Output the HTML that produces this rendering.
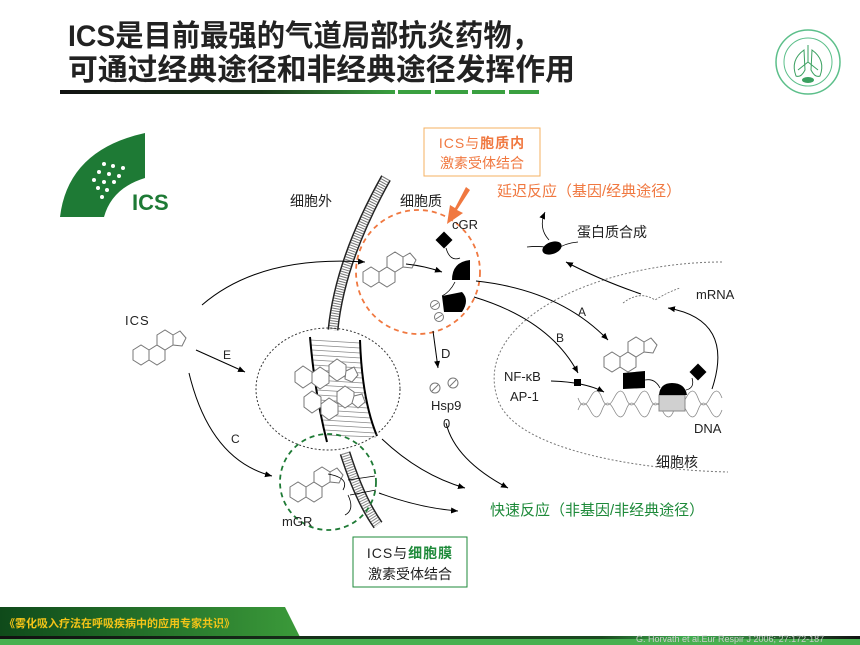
<!DOCTYPE html>
<html><head><meta charset="utf-8"><style>
html,body{margin:0;padding:0;background:#fff}
svg{display:block}
text{font-family:"Liberation Sans","Noto Sans CJK SC",sans-serif}
</style></head><body>
<svg width="860" height="645" viewBox="0 0 860 645" xmlns="http://www.w3.org/2000/svg">
<defs>
<linearGradient id="ul" x1="0" x2="1"><stop offset="0" stop-color="#111"/><stop offset="0.6" stop-color="#1a3a1a"/><stop offset="1" stop-color="#3aa040"/></linearGradient>
<linearGradient id="ft" x1="0" x2="1"><stop offset="0" stop-color="#0f4a1a"/><stop offset="1" stop-color="#3b9a3a"/></linearGradient>
<linearGradient id="fb" x1="0" x2="1"><stop offset="0" stop-color="#111"/><stop offset="0.7" stop-color="#1a4a20"/><stop offset="0.8" stop-color="#40b050"/><stop offset="1" stop-color="#111"/></linearGradient>
<marker id="ar" markerWidth="8" markerHeight="8" refX="7" refY="4" orient="auto" markerUnits="userSpaceOnUse"><path d="M0,1 L7,4 L0,7 z" fill="#000"/></marker>
<g id="st" fill="#fff" stroke="#777" stroke-width="1">
<polygon points="0,0 8,-5 16,0 16,10 8,15 0,10"/>
<polygon points="16,0 24,-5 32,0 32,10 24,15 16,10"/>
<polygon points="24,-15 32,-20 40,-15 40,-5 32,0 24,-5"/>
<polygon points="40,-15 47,-19 53,-12 49,-4 40,-5"/>
</g>
</defs>

<!-- title -->
<text x="68" y="46" font-size="30" font-weight="bold" fill="#222" textLength="472" lengthAdjust="spacingAndGlyphs">ICS是目前最强的气道局部抗炎药物，</text>
<text x="68" y="80" font-size="30" font-weight="bold" fill="#222" textLength="507" lengthAdjust="spacingAndGlyphs">可通过经典途径和非经典途径发挥作用</text>
<rect x="60" y="90" width="335" height="4" fill="url(#ul)"/>
<g fill="#3aa040"><rect x="398" y="90" width="33" height="4"/><rect x="435" y="90" width="33" height="4"/><rect x="472" y="90" width="33" height="4"/><rect x="509" y="90" width="30" height="4"/></g>

<!-- logo -->
<circle cx="808" cy="62" r="32" fill="#fff" stroke="#5cbf8a" stroke-width="1.5"/>
<circle cx="808" cy="62" r="24" fill="none" stroke="#5cbf8a" stroke-width="1"/>
<path d="M808,45 V62 M808,62 L798,70 M808,62 L818,70" stroke="#3aa060" fill="none"/>
<path d="M804,50 Q790,60 796,76 Q801,78 805,70 Z M812,50 Q826,60 820,76 Q815,78 811,70 Z" fill="none" stroke="#3aa060"/>
<ellipse cx="808" cy="80" rx="6" ry="3" fill="#3aa060"/>

<!-- ICS emblem -->
<path d="M60,217 Q68,150 145,133 L145,178 Q112,188 104,217 Z" fill="#1e7a35"/>
<g fill="#fff"><circle cx="104" cy="164" r="2"/><circle cx="113" cy="166" r="2"/><circle cx="123" cy="168" r="2"/><circle cx="99" cy="172" r="2"/><circle cx="109" cy="174" r="2"/><circle cx="119" cy="176" r="2"/><circle cx="94" cy="180" r="2"/><circle cx="104" cy="182" r="2"/><circle cx="114" cy="182" r="2"/><circle cx="98" cy="188" r="2"/><circle cx="107" cy="190" r="2"/><circle cx="102" cy="197" r="2"/></g>
<text x="132" y="210" font-size="22" font-weight="bold" fill="#1e7a35">ICS</text>

<!-- nucleus -->
<path d="M722,262 C600,262 470,320 498,400 C515,450 640,470 728,472" fill="none" stroke="#777" stroke-width="1" stroke-dasharray="2 2"/>

<!-- membrane -->
<g fill="none">
<path d="M386,178 Q340,260 333,330" stroke="#222" stroke-width="11"/>
<path d="M386,178 Q340,260 333,330" stroke="#fff" stroke-width="8"/>
<path d="M386,178 Q340,260 333,330" stroke="#777" stroke-width="8" stroke-dasharray="1 1.5"/>
<path d="M345,453 Q360,500 378,525" stroke="#222" stroke-width="11"/>
<path d="M345,453 Q360,500 378,525" stroke="#fff" stroke-width="8"/>
<path d="M345,453 Q360,500 378,525" stroke="#888" stroke-width="8" stroke-dasharray="1 1.5"/>
</g>
<path d="M310,337 Q315,395 327,442 L377,436 Q362,400 360,340 Z" fill="#fff"/>
<g stroke="#888" stroke-width="0.7">
<line x1="310" y1="340" x2="360" y2="343"/><line x1="311" y1="345" x2="360" y2="348"/><line x1="312" y1="350" x2="360" y2="353"/><line x1="312" y1="355" x2="361" y2="358"/><line x1="313" y1="360" x2="361" y2="363"/><line x1="313" y1="365" x2="361" y2="368"/><line x1="314" y1="370" x2="362" y2="373"/><line x1="315" y1="375" x2="362" y2="378"/><line x1="315" y1="380" x2="363" y2="383"/><line x1="316" y1="385" x2="364" y2="388"/><line x1="317" y1="390" x2="365" y2="393"/><line x1="318" y1="395" x2="366" y2="398"/><line x1="319" y1="400" x2="367" y2="403"/><line x1="320" y1="405" x2="368" y2="408"/><line x1="321" y1="410" x2="370" y2="413"/><line x1="322" y1="415" x2="371" y2="418"/><line x1="323" y1="420" x2="372" y2="423"/><line x1="324" y1="425" x2="374" y2="428"/><line x1="325" y1="430" x2="375" y2="433"/><line x1="326" y1="435" x2="376" y2="437"/>
</g>
<path d="M310,337 Q315,395 327,442" fill="none" stroke="#000" stroke-width="2"/>
<path d="M360,340 Q362,400 377,436" fill="none" stroke="#000" stroke-width="2"/>
<g fill="#fff" stroke="#777">
<polygon points="295,372 303,366 312,372 312,382 303,388 295,382"/><polygon points="312,373 320,367 329,373 329,383 320,389 312,383"/><polygon points="329,365 337,359 346,365 346,375 337,381 329,375"/><polygon points="346,371 354,367 358,375 352,382 345,379"/>
<polygon points="304,397 312,391 321,397 321,407 312,413 304,407"/><polygon points="321,404 329,398 338,404 338,414 329,420 321,414"/><polygon points="337,392 345,386 354,392 354,402 345,408 337,402"/><polygon points="354,396 362,394 365,402 358,408 352,403"/>
</g>
<ellipse cx="328" cy="389" rx="72" ry="61" fill="none" stroke="#333" stroke-width="1" stroke-dasharray="2 2"/>

<!-- orange circle -->
<circle cx="418" cy="272" r="62" fill="none" stroke="#f07840" stroke-width="1.8" stroke-dasharray="5 4"/>
<use href="#st" x="363" y="272"/>
<path d="M406,264 Q425,266 442,272" fill="none" stroke="#000" marker-end="url(#ar)"/>
<rect x="438" y="234" width="12" height="12" fill="#000" transform="rotate(45 444 240)"/>
<path d="M446,248 Q450,262 460,258" fill="none" stroke="#000" stroke-width="0.8"/>
<path d="M470,260 L470,280 L452,280 Q452,262 470,260 Z" fill="#000"/>
<path d="M455,282 Q450,292 442,296" fill="none" stroke="#000" stroke-width="0.8"/>
<path d="M442,296 L462,292 Q470,300 462,312 L444,312 Z" fill="#000"/>
<circle cx="435" cy="305" r="4.5" fill="#fff" stroke="#777"/><line x1="432" y1="307" x2="438" y2="303" stroke="#777"/>
<circle cx="439" cy="317" r="4.5" fill="#fff" stroke="#777"/><line x1="436" y1="319" x2="442" y2="315" stroke="#777"/>
<text x="452" y="229" font-size="13" fill="#222">cGR</text>

<!-- orange box & arrow -->
<rect x="424" y="128" width="116" height="48" fill="#fff" stroke="#f5b060" stroke-width="1"/>
<text x="482" y="148" font-size="14" fill="#f07840" text-anchor="middle" letter-spacing="1">ICS与<tspan font-weight="bold">胞质内</tspan></text>
<text x="482" y="168" font-size="14" fill="#f07840" text-anchor="middle">激素受体结合</text>
<path d="M470,190 L457,210 L463,213 L447,224 L450,205 L455,208 L466,187 Z" fill="#f07840"/>
<text x="497" y="196" font-size="15" fill="#f07840">延迟反应（基因/经典途径）</text>
<text x="290" y="206" font-size="14" fill="#222">细胞外</text>
<text x="400" y="206" font-size="14" fill="#222">细胞质</text>

<!-- ICS left -->
<text x="125" y="325" font-size="13" fill="#222" letter-spacing="1">ICS</text>
<use href="#st" x="133" y="350"/>
<path d="M202,305 Q260,255 365,262" fill="none" stroke="#000" marker-end="url(#ar)"/>
<path d="M196,350 L245,372" fill="none" stroke="#000" marker-end="url(#ar)"/>
<text x="223" y="359" font-size="12" fill="#222">E</text>
<path d="M189,373 Q210,460 272,476" fill="none" stroke="#000" marker-end="url(#ar)"/>
<text x="231" y="443" font-size="12" fill="#222">C</text>

<!-- D -->
<path d="M433,331 L438,368" fill="none" stroke="#000" marker-end="url(#ar)"/>
<text x="441" y="358" font-size="13" fill="#222">D</text>
<circle cx="435" cy="388" r="5" fill="#fff" stroke="#777"/><line x1="432" y1="391" x2="438" y2="385" stroke="#777"/>
<circle cx="453" cy="383" r="5" fill="#fff" stroke="#777"/><line x1="450" y1="386" x2="456" y2="380" stroke="#777"/>
<text x="431" y="410" font-size="13" fill="#222">Hsp9</text>
<text x="443" y="428" font-size="13" fill="#222">0</text>

<!-- A, B -->
<path d="M476,281 Q560,290 608,340" fill="none" stroke="#000" marker-end="url(#ar)"/>
<text x="578" y="316" font-size="12" fill="#222">A</text>
<path d="M474,297 Q550,320 578,373" fill="none" stroke="#000" marker-end="url(#ar)"/>
<text x="556" y="342" font-size="12" fill="#222">B</text>
<text x="504" y="381" font-size="13" fill="#222">NF-κB</text>
<text x="510" y="401" font-size="13" fill="#222">AP-1</text>
<path d="M551,381 Q585,382 604,392" fill="none" stroke="#000" marker-end="url(#ar)"/>
<rect x="574" y="379" width="7" height="7" fill="#000"/>

<!-- DNA -->
<path d="M578,398 Q583,412 590,398 T602,398 T614,398 T626,398 T638,398 T650,398 T662,398 T674,398 T686,398 T698,398 T710,398 T722,398" fill="none" stroke="#888" stroke-width="0.8"/>
<path d="M578,410 Q583,396 590,410 T602,410 T614,410 T626,410 T638,410 T650,410 T662,410 T674,410 T686,410 T698,410 T710,410 T722,410" fill="none" stroke="#888" stroke-width="0.8"/>
<rect x="659" y="395" width="26" height="16" fill="#d0d0d0" stroke="#888"/>
<path d="M659,395 Q660,383 672,383 Q685,383 687,395 Z" fill="#000"/>
<rect x="692" y="366" width="12" height="12" fill="#000" transform="rotate(45 698 372)"/>
<path d="M686,390 Q695,388 692,378" fill="none" stroke="#000" stroke-width="0.8"/>
<path d="M623,373 L645,371 L645,388 L623,389 Z" fill="#000"/>
<path d="M645,380 Q655,378 660,388" fill="none" stroke="#000" stroke-width="0.8"/>
<use href="#st" x="604" y="357"/>
<text x="694" y="433" font-size="13" fill="#222">DNA</text>
<text x="656" y="467" font-size="14" fill="#222">细胞核</text>

<!-- mRNA & protein -->
<path d="M712,389 Q735,320 668,308" fill="none" stroke="#000" marker-end="url(#ar)"/>
<path d="M623,303 Q640,290 655,300 Q668,292 680,288" fill="none" stroke="#666" stroke-width="0.8" stroke-dasharray="2 1.5"/>
<text x="696" y="299" font-size="13" fill="#222">mRNA</text>
<path d="M641,294 Q600,280 566,262" fill="none" stroke="#000" marker-end="url(#ar)"/>
<path d="M527,247 Q545,245 555,250 Q565,243 578,242" fill="none" stroke="#000" stroke-width="0.8"/>
<ellipse cx="552" cy="248" rx="10" ry="6" fill="#000" transform="rotate(-20 552 248)"/>
<path d="M549,240 Q538,228 545,212" fill="none" stroke="#000" stroke-width="0.8" marker-end="url(#ar)"/>
<text x="577" y="237" font-size="14" fill="#222">蛋白质合成</text>

<!-- green circle / mGR -->
<circle cx="328" cy="482" r="48" fill="none" stroke="#1e7a35" stroke-width="1.8" stroke-dasharray="5 4"/>
<use href="#st" x="290" y="487"/>
<path d="M328,474 Q350,478 343,490 M345,515 Q355,510 348,495" fill="none" stroke="#000" stroke-width="0.8"/>
<path d="M348,480 L375,476 M350,495 L376,490" stroke="#000" stroke-width="0.8"/>
<text x="282" y="526" font-size="13" fill="#222">mGR</text>
<rect x="353" y="537" width="114" height="50" fill="#fff" stroke="#1e8a3a" stroke-width="1"/>
<text x="410" y="558" font-size="14" fill="#222" text-anchor="middle" letter-spacing="1">ICS与<tspan fill="#1e8a3a" font-weight="bold">细胞膜</tspan></text>
<text x="410" y="579" font-size="14" fill="#222" text-anchor="middle">激素受体结合</text>

<!-- fast response arrows -->
<path d="M382,439 Q420,475 465,488" fill="none" stroke="#000" marker-end="url(#ar)"/>
<path d="M379,493 Q420,508 458,511" fill="none" stroke="#000" marker-end="url(#ar)"/>
<path d="M446,423 Q455,460 508,488" fill="none" stroke="#000" marker-end="url(#ar)"/>
<text x="490" y="515" font-size="15" fill="#1e8a3a">快速反应（非基因/非经典途径）</text>

<!-- footer -->
<path d="M0,607 L285,607 L300,637 L0,637 Z" fill="url(#ft)"/>
<text x="4" y="627" font-size="11" font-weight="bold" fill="#f5c518">《雾化吸入疗法在呼吸疾病中的应用专家共识》</text>
<rect x="0" y="636" width="860" height="3" fill="url(#fb)"/>
<rect x="0" y="639" width="860" height="6" fill="#48b050"/>
<text x="636" y="642" font-size="9" fill="#ccc">G. Horvath et al.Eur Respir J 2006; 27:172-187</text>
</svg>
</body></html>
